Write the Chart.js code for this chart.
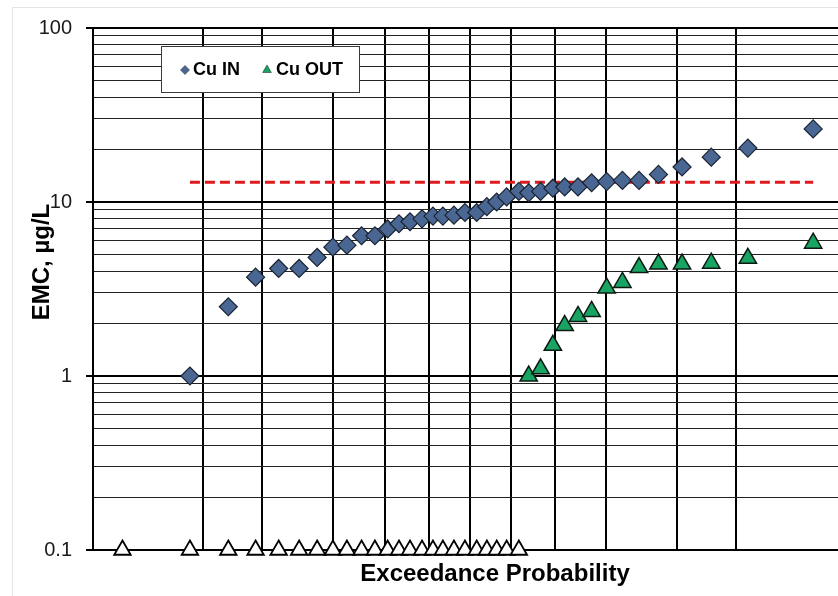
<!DOCTYPE html>
<html>
<head>
<meta charset="utf-8">
<title>Cu EMC exceedance</title>
<script src="https://cdn.jsdelivr.net/npm/chart.js@4.4.1/dist/chart.umd.min.js"></script>
<style>
  html, body { margin: 0; padding: 0; background: #fff; }
  #wrap { position: relative; width: 838px; height: 596px; overflow: hidden; }
  #frame { position: absolute; left: 12px; top: 7px; width: 840px; height: 600px;
           border-left: 1px solid #e4e4e4; border-top: 1px solid #e4e4e4; }
  #emcChart { position: absolute; left: 0; top: 0; }
</style>
</head>
<body>
<div id="wrap">
  <div id="frame"></div>
  <canvas id="emcChart" width="838" height="596"></canvas>
</div>
<script>
// Influent copper, ranked events: exceedance probability (%) and EMC (ug/L)
const cuInProb = [4.2, 6.8, 9.3, 11.9, 14.6, 17.3, 19.9, 22.4, 25.2, 27.9, 30.6, 33.1, 35.6,
  38.4, 41.0, 43.4, 46.1, 48.8, 51.7, 54.2, 56.6, 59.0, 61.9, 64.2, 66.9, 69.6, 72.1, 74.8,
  77.4, 80.1, 82.7, 85.2, 87.8, 90.5, 93.2, 95.7, 98.3];
const cuInEmc = [1.0, 2.5, 3.7, 4.15, 4.15, 4.8, 5.5, 5.65, 6.4, 6.4, 7.0, 7.5, 7.7,
  8.0, 8.3, 8.3, 8.4, 8.7, 8.7, 9.4, 10.0, 10.7, 11.5, 11.3, 11.5, 12.0, 12.2, 12.2,
  12.9, 13.1, 13.3, 13.3, 14.4, 15.9, 18.1, 20.4, 26.3];

// Effluent copper, detected events
const cuOutProb = [64.2, 66.9, 69.6, 72.1, 74.8, 77.4, 80.1, 82.7, 85.2, 87.8, 90.5, 93.2, 95.7, 98.3];
const cuOutEmc = [1.0, 1.1, 1.5, 1.95, 2.2, 2.35, 3.2, 3.45, 4.2, 4.4, 4.4, 4.45, 4.75, 5.8];

// Effluent copper, non-detects shown at the reporting limit
const cuOutNdProb = [1.6, 4.2, 6.8, 9.3, 11.9, 14.6, 17.3, 19.9, 22.4, 25.2, 27.9, 30.6,
  33.1, 35.6, 38.4, 41.0, 43.4, 46.1, 48.8, 51.7, 54.2, 56.6, 59.0, 61.9];
const cuOutNdEmc = [0.1, 0.1, 0.1, 0.1, 0.1, 0.1, 0.1, 0.1, 0.1, 0.1, 0.1, 0.1,
  0.1, 0.1, 0.1, 0.1, 0.1, 0.1, 0.1, 0.1, 0.1, 0.1, 0.1, 0.1];

// Copper benchmark line
const limitProb = [4.2, 98.3];
const limitEmc = [13, 13];

// Axis set-up
const probGrid = [1, 5, 10, 20, 30, 40, 50, 60, 70, 80, 90, 95];
const probMin = 1;
const probMax = 98.85;
const emcMajor = [0.1, 1, 10, 100];
const emcLabels = ['0.1', '1', '10', '100'];

// inverse standard normal CDF (Acklam), p given in percent
function probit(pct) {
  const p = pct / 100;
  const a = [-39.69683028665376, 220.9460984245205, -275.9285104469687, 138.3577518672690, -30.66479806614716, 2.506628277459239];
  const b = [-54.47609879822406, 161.5858368580409, -155.6989798598866, 66.80131188771972, -13.28068155288572];
  const c = [-0.007784894002430293, -0.3223964580411365, -2.400758277161838, -2.549732539343734, 4.374664141464968, 2.938163982698783];
  const d = [0.007784695709041462, 0.3224671290700398, 2.445134137142996, 3.754408661907416];
  const pLow = 0.02425;
  let q, r;
  if (p < pLow) {
    q = Math.sqrt(-2 * Math.log(p));
    return (((((c[0] * q + c[1]) * q + c[2]) * q + c[3]) * q + c[4]) * q + c[5]) /
      ((((d[0] * q + d[1]) * q + d[2]) * q + d[3]) * q + 1);
  }
  if (p > 1 - pLow) {
    q = Math.sqrt(-2 * Math.log(1 - p));
    return -(((((c[0] * q + c[1]) * q + c[2]) * q + c[3]) * q + c[4]) * q + c[5]) /
      ((((d[0] * q + d[1]) * q + d[2]) * q + d[3]) * q + 1);
  }
  q = p - 0.5;
  r = q * q;
  return (((((a[0] * r + a[1]) * r + a[2]) * r + a[3]) * r + a[4]) * r + a[5]) * q /
    (((((b[0] * r + b[1]) * r + b[2]) * r + b[3]) * r + b[4]) * r + 1);
}

function toPoints(probs, values) {
  return probs.map((p, i) => ({ x: probit(p), y: values[i] }));
}

function isDecade(v) {
  const l = Math.log10(v);
  return Math.abs(l - Math.round(l)) < 1e-9;
}

// 1..9 per decade between 0.1 and 100
function logGridValues() {
  const vals = [];
  for (let e = -1; e < 2; e++) {
    for (let k = 1; k < 10; k++) vals.push(k * Math.pow(10, e));
  }
  vals.push(100);
  return vals;
}

const FONT = '"Liberation Sans", Arial, sans-serif';

// axis titles and the boxed legend inside the plot
const chartNotes = {
  id: 'chartNotes',
  afterDraw(chart) {
    const ctx = chart.ctx;
    ctx.save();

    ctx.fillStyle = '#000';
    ctx.font = 'bold 24px ' + FONT;
    ctx.textAlign = 'center';
    ctx.textBaseline = 'alphabetic';
    ctx.fillText('Exceedance Probability', 495, 581);

    ctx.save();
    ctx.translate(49, 262);
    ctx.rotate(-Math.PI / 2);
    ctx.fillText('EMC, \u00b5g/L', 0, 0);
    ctx.restore();

    // legend box
    ctx.fillStyle = '#fff';
    ctx.fillRect(161, 46, 199, 47);
    ctx.strokeStyle = '#3a3a3a';
    ctx.lineWidth = 1;
    ctx.strokeRect(161.5, 46.5, 198, 46);

    const items = [
      { ds: chart.data.datasets[0], mx: 185, tx: 193 },
      { ds: chart.data.datasets[1], mx: 267, tx: 276 }
    ];
    ctx.font = 'bold 18px ' + FONT;
    ctx.textAlign = 'left';
    ctx.textBaseline = 'middle';
    items.forEach(it => {
      ctx.fillStyle = it.ds.backgroundColor;
      ctx.strokeStyle = it.ds.borderColor;
      ctx.lineWidth = 0.5;
      Chart.helpers.drawPoint(ctx, {
        pointStyle: it.ds.pointStyle,
        radius: it.ds.pointStyle === 'triangle' ? 5 : 4.5,
        rotation: 0,
        borderWidth: 0.5
      }, it.mx, 70);
      ctx.fillStyle = '#000';
      ctx.fillText(it.ds.label, it.tx, 70);
    });

    ctx.restore();
  }
};

const ctx = document.getElementById('emcChart').getContext('2d');

new Chart(ctx, {
  type: 'scatter',
  data: {
    datasets: [
      {
        label: 'Cu IN',
        data: toPoints(cuInProb, cuInEmc),
        pointStyle: 'rectRot',
        pointRadius: 9,
        pointHoverRadius: 9,
        backgroundColor: '#4a6794',
        borderColor: '#1b2533',
        borderWidth: 1.2,
        order: 1
      },
      {
        label: 'Cu OUT',
        data: toPoints(cuOutProb, cuOutEmc),
        pointStyle: 'triangle',
        pointRadius: 10,
        pointHoverRadius: 10,
        backgroundColor: '#18a463',
        borderColor: '#0c1a12',
        borderWidth: 1.5,
        order: 1
      },
      {
        label: 'Cu OUT ND',
        data: toPoints(cuOutNdProb, cuOutNdEmc),
        pointStyle: 'triangle',
        pointRadius: 9.5,
        pointHoverRadius: 9.5,
        backgroundColor: '#fff',
        borderColor: '#000',
        borderWidth: 1.8,
        clip: false,
        order: 1
      },
      {
        label: 'Benchmark',
        type: 'line',
        data: toPoints(limitProb, limitEmc),
        showLine: true,
        borderColor: '#e0191f',
        borderWidth: 3,
        borderDash: [10, 5],
        pointRadius: 0,
        fill: false,
        order: 3
      }
    ]
  },
  options: {
    responsive: false,
    animation: false,
    layout: { autoPadding: false, padding: { top: 28, right: 0, bottom: 0, left: 0 } },
    plugins: {
      legend: { display: false },
      tooltip: { enabled: false }
    },
    scales: {
      x: {
        type: 'linear',
        min: probit(probMin),
        max: probit(probMax),
        afterBuildTicks: axis => {
          axis.ticks = probGrid.map(p => ({ value: probit(p) }));
        },
        afterFit: axis => { axis.height = 46; },
        ticks: { display: false, autoSkip: false },
        grid: { color: '#000', lineWidth: 2, drawTicks: false },
        border: { display: true, color: '#000', width: 2 }
      },
      y: {
        type: 'logarithmic',
        min: 0.1,
        max: 100,
        afterBuildTicks: axis => {
          axis.ticks = logGridValues().map(v => ({ value: v, major: isDecade(v) }));
        },
        afterFit: axis => { axis.width = 93; },
        ticks: {
          autoSkip: false,
          padding: 14,
          color: '#1a1a1a',
          font: { family: FONT, size: 20 },
          callback: value => {
            const i = emcMajor.findIndex(m => Math.abs(m - value) < 1e-9);
            return i >= 0 ? emcLabels[i] : '';
          }
        },
        grid: {
          color: c => isDecade(c.tick.value) ? '#000' : '#222',
          lineWidth: c => isDecade(c.tick.value) ? 2 : 1,
          tickLength: 7,
          tickWidth: 2,
          tickColor: c => isDecade(c.tick.value) ? '#000' : 'rgba(0,0,0,0)'
        },
        border: { display: true, color: '#000', width: 2 }
      }
    }
  },
  plugins: [chartNotes]
});
</script>
</body>
</html>
